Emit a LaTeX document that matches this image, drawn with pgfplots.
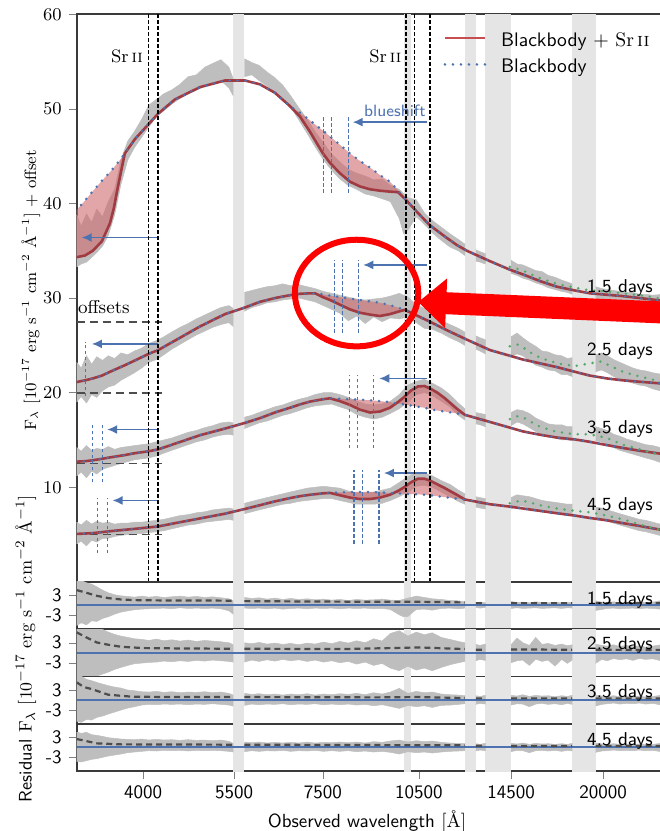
\documentclass[border=0pt]{standalone}
\usepackage{fontspec}
\usepackage{graphicx}
\usepackage{pgfplots}
\usepackage{pgfplotstable}
\pgfplotsset{compat=1.18}
\usetikzlibrary{arrows.meta}

\definecolor{bbblue}{HTML}{4C72B0}
\definecolor{srred}{HTML}{C44E52}
\definecolor{srline}{HTML}{A23A41}
\definecolor{srfill}{HTML}{D06A6E}
\definecolor{sgreen}{HTML}{55A868}
\definecolor{specgray}{HTML}{BEBEBE}
\definecolor{bandgray}{HTML}{E5E5E5}
\definecolor{axcol}{HTML}{3A3A3A}
\definecolor{dgray}{HTML}{4D4D4D}

% model curves: blackbody (bb) and blackbody + Sr II (sr)
\pgfplotstableread{
x bb sr
3160 39.2 34.3
3263 40.3 34.5
3354 41.3 35.0
3462 42.4 36.0
3561 43.3 37.9
3610 43.8 39.5
3648 44.2 41.2
3700 44.7 43.3
3752 45.3 45.3
3886 46.8 46.8
4078 48.4 48.4
4216 49.5 49.5
4470 51.0 51.0
4880 52.3 52.3
5325 53.0 53.0
5711 53.0 53.0
6018 52.6 52.6
6343 51.7 51.7
6683 50.3 50.3
6922 49.6 49.2
7168 48.8 47.6
7501 47.7 45.3
7689 47.1 44.3
7962 46.2 43.2
8247 45.3 42.3
8540 44.5 41.8
8845 43.8 41.5
9159 43.0 41.35
9485 42.3 41.25
9754 41.4 41.2
9995 40.5 40.5
10461 39.0 39.0
10909 37.7 37.7
11498 36.5 36.5
11989 35.6 35.6
12417 35.0 35.0
13459 33.9 33.9
14431 33.0 33.0
15107 32.5 32.5
16032 31.8 31.8
17014 31.2 31.2
18125 30.8 30.8
19095 30.5 30.5
20271 30.35 30.35
21436 30.2 30.2
22751 30.0 30.0
24700 29.7 29.7
}\tA

\pgfplotstableread{
x bb sr
3160 21.1 21.1
3263 21.3 21.3
3354 21.5 21.5
3462 21.8 21.8
3561 22.2 22.2
3752 22.9 22.9
3886 23.4 23.4
4078 24.1 24.1
4216 24.5 24.5
4470 25.5 25.5
4880 27.0 27.0
5325 28.3 28.3
5711 29.0 29.0
6018 29.6 29.6
6343 30.0 30.0
6683 30.3 30.3
6922 30.45 30.45
7168 30.5 30.5
7300 30.5 30.5
7501 30.4 30.1
7689 30.25 29.8
7962 30.1 29.3
8247 29.95 28.8
8540 29.8 28.45
8845 29.65 28.25
9159 29.5 28.1
9485 29.25 28.3
9754 29.0 28.55
9995 28.75 28.75
10461 28.1 28.1
10909 27.5 27.5
11498 26.7 26.7
11989 26.1 26.1
12417 25.6 25.6
13459 24.5 24.5
14431 23.9 23.9
15107 23.5 23.5
16032 23.1 23.1
17014 22.7 22.7
18125 22.2 22.2
19095 21.8 21.8
20271 21.5 21.5
21436 21.3 21.3
22751 21.15 21.15
24700 20.95 20.95
}\tB

\pgfplotstableread{
x bb sr
3160 12.7 12.7
3263 12.75 12.75
3354 12.85 12.85
3462 13.0 13.0
3561 13.15 13.15
3752 13.4 13.4
3886 13.6 13.6
4078 13.8 13.8
4216 14.0 14.0
4470 14.6 14.6
4880 15.5 15.5
5325 16.2 16.2
5711 16.8 16.8
6018 17.3 17.3
6343 17.9 17.9
6683 18.4 18.4
6922 18.75 18.75
7168 19.05 19.05
7501 19.3 19.3
7689 19.4 19.4
7962 19.35 19.1
8247 19.3 18.7
8540 19.25 18.2
8845 19.2 17.9
9159 19.1 18.0
9485 19.0 18.4
9754 18.85 19.0
9995 18.75 19.6
10200 18.65 20.2
10461 18.5 20.65
10700 18.4 20.7
10909 18.25 20.45
11200 18.1 20.0
11498 18.0 19.4
11989 17.8 18.3
12330 17.65 17.65
13459 16.9 16.9
14431 16.3 16.3
15107 15.9 15.9
16032 15.55 15.55
17014 15.25 15.25
18125 15.05 15.05
19095 14.8 14.8
20271 14.45 14.45
21436 14.15 14.15
22751 13.85 13.85
24700 13.5 13.5
}\tC

\pgfplotstableread{
x bb sr
3160 5.06 5.06
3263 5.1 5.1
3354 5.15 5.15
3462 5.25 5.25
3561 5.35 5.35
3752 5.5 5.5
3886 5.6 5.6
4078 5.75 5.75
4216 5.85 5.85
4470 6.2 6.2
4880 6.7 6.7
5325 7.2 7.2
5711 7.7 7.7
6018 8.1 8.1
6343 8.5 8.5
6683 8.85 8.85
6922 9.05 9.05
7168 9.2 9.2
7501 9.35 9.35
7689 9.4 9.4
7962 9.45 9.15
8247 9.5 8.9
8540 9.5 8.75
8845 9.5 8.75
9159 9.45 8.9
9485 9.4 9.2
9754 9.35 9.6
9995 9.3 10.05
10200 9.28 10.5
10461 9.25 10.9
10700 9.2 10.9
10909 9.15 10.7
11200 9.05 10.3
11498 8.95 9.9
11989 8.8 9.2
12330 8.7 8.7
13459 8.2 8.2
14431 7.95 7.95
15107 7.75 7.75
16032 7.5 7.5
17014 7.25 7.25
18125 7.0 7.0
19095 6.75 6.75
20271 6.5 6.5
21436 6.2 6.2
22751 5.9 5.9
24700 5.45 5.45
}\tD

\tikzset{
  spec/.style={fill=specgray, draw=specgray, line width=0.25pt},
  band/.style={fill=bandgray, draw=none},
  srfl/.style={fill=srfill, fill opacity=0.6, draw=none},
  bbline/.style={bbblue, line width=1.4pt, line cap=round, dash pattern=on 0pt off 4pt},
  srl/.style={srline, line width=1.3pt},
  gline/.style={sgreen, line width=1.4pt, line cap=round, dash pattern=on 0pt off 4pt},
  srdash/.style={black, line width=0.7pt, dash pattern=on 1.8pt off 1.2pt},
  bdash/.style={bbblue, line width=0.6pt, dash pattern=on 1.8pt off 1.2pt},
  barrow/.style={bbblue, line width=0.8pt, -{Latex[length=5pt,width=4.5pt]}},
  rdash/.style={dgray, line width=1.1pt, dash pattern=on 3pt off 2pt},
  offl/.style={dgray, line width=0.9pt, dash pattern=on 4pt off 2.5pt},
  zline/.style={bbblue, line width=1pt},
}

\newcommand{\bands}[2]{%
  \addplot[band, forget plot] coordinates {(5480,#1)(5700,#1)(5700,#2)(5480,#2)};
  \addplot[band, forget plot] coordinates {(9950,#1)(10200,#1)(10200,#2)(9950,#2)};
  \addplot[band, forget plot] coordinates {(12330,#1)(12810,#1)(12810,#2)(12330,#2)};
  \addplot[band, forget plot] coordinates {(13245,#1)(14490,#1)(14490,#2)(13245,#2)};
  \addplot[band, forget plot] coordinates {(17950,#1)(19480,#1)(19480,#2)(17950,#2)};
}
\newcommand{\dlab}{\sffamily\fontsize{9.3}{10}\selectfont}

\begin{document}
\begin{tikzpicture}
% ---------------- main panel ----------------
\begin{axis}[scale only axis, width=293.35pt, height=283.75pt,
  xmode=log, xmin=3170, xmax=24700, ymin=0, ymax=60,
  at={(0,0)}, anchor=south west,
  axis line style={draw=axcol, line width=0.8pt},
  major tick length=4pt, tick align=outside, tick pos=left,
  unbounded coords=jump,
  ytick={10,20,30,40,50,60}, xtick=\empty,
  yticklabel style={font=\fontsize{8.8}{10}\selectfont}]
\bands{-1}{61}
% observed spectra (noise envelopes)
\addplot[spec, forget plot] coordinates {
(3170,38.8)(3220,37.6)(3280,38.9)(3340,38.0)(3400,39.4)(3470,38.6)(3540,40.2)(3620,41.5)(3700,44.6)(3790,46.6)(3880,47.6)(3980,48.9)(4080,50.4)(4190,51.0)(4300,51.6)(4420,52.0)(4550,52.6)(4680,53.4)(4820,53.6)(4960,54.4)(5100,54.8)(5250,55.2)(5400,54.4)(5480,53.2)
(5480,51.4)(5400,52.2)(5250,53.0)(5100,52.7)(4960,52.4)(4820,52.0)(4680,51.6)(4550,51.1)(4420,50.5)(4300,49.8)(4190,49.2)(4080,48.1)(3980,47.0)(3880,45.9)(3790,44.6)(3700,42.0)(3620,38.8)(3540,36.6)(3470,35.5)(3400,34.8)(3340,34.3)(3280,33.8)(3220,33.6)(3170,33.3)
(5600,nan)
(5700,55.3)(5850,54.9)(6000,54.6)(6170,53.9)(6340,53.3)(6520,52.5)(6700,51.4)(6900,50.1)(7100,48.9)(7300,47.6)(7520,46.4)(7740,45.2)(7960,44.4)(8200,43.6)(8440,43.2)(8700,42.9)(8960,42.5)(9230,42.6)(9500,41.9)(9800,41.5)(10100,40.6)(10400,40.4)(10700,39.0)(11000,38.2)(11350,37.5)(11700,36.8)(12050,36.2)(12330,35.7)
(12330,34.5)(12050,35.0)(11700,35.4)(11350,36.1)(11000,36.9)(10700,37.8)(10400,38.6)(10100,37.2)(9950,36.8)(9800,38.4)(9500,40.2)(9230,40.5)(8960,40.8)(8700,41.0)(8440,41.5)(8200,41.9)(7960,42.6)(7740,43.5)(7520,44.6)(7300,46.0)(7100,47.4)(6900,48.8)(6700,50.2)(6520,51.0)(6340,51.8)(6170,52.4)(6000,53.0)(5850,53.6)(5700,53.4)
(12500,nan)
(12810,35.1)(13000,34.9)(13245,34.7)(13245,33.6)(13000,33.8)(12810,33.9)
(14000,nan)
(14490,34.0)(14800,33.6)(15100,33.5)(15450,33.2)(15800,32.9)(16150,32.8)(16500,32.4)(16900,32.2)(17300,31.9)(17650,31.7)(17950,31.5)
(17950,30.4)(17650,30.6)(17300,30.7)(16900,30.9)(16500,31.1)(16150,31.4)(15800,31.6)(15450,31.9)(15100,32.1)(14800,32.4)(14490,32.6)
(19000,nan)
(19480,31.2)(19900,31.0)(20300,30.9)(20750,30.8)(21200,30.7)(21700,30.6)(22200,30.6)(22700,30.4)(23200,30.4)(23800,30.3)(24700,30.4)
(24700,29.1)(23800,29.3)(23200,29.4)(22700,29.5)(22200,29.5)(21700,29.6)(21200,29.8)(20750,29.7)(20300,29.9)(19900,29.8)(19480,30.0)
};
\addplot[spec, forget plot] coordinates {
(3170,23.2)(3220,22.6)(3280,23.9)(3340,23.0)(3400,23.8)(3470,23.4)(3540,23.9)(3620,23.6)(3700,24.2)(3790,24.0)(3880,24.4)(3980,24.7)(4080,25.2)(4190,25.5)(4300,25.9)(4420,26.4)(4550,26.9)(4680,27.3)(4820,27.8)(4960,28.2)(5100,28.6)(5250,29.0)(5400,29.2)(5480,28.9)
(5480,27.0)(5400,27.4)(5250,27.2)(5100,26.9)(4960,26.5)(4820,26.1)(4680,25.6)(4550,25.1)(4420,24.6)(4300,24.0)(4190,23.5)(4080,23.2)(3980,22.6)(3880,22.1)(3790,21.7)(3700,21.3)(3620,20.8)(3540,20.6)(3470,20.2)(3400,19.5)(3340,19.8)(3280,18.9)(3220,19.6)(3170,19.0)
(5600,nan)
(5700,30.6)(5850,30.8)(6000,31.0)(6170,31.2)(6340,31.3)(6520,31.5)(6700,31.3)(6900,31.4)(7100,31.2)(7300,31.0)(7520,30.7)(7740,30.5)(7960,30.3)(8200,30.1)(8440,29.9)(8700,29.8)(8960,29.9)(9230,30.0)(9500,30.2)(9800,30.5)(10100,30.1)(10400,29.3)(10700,28.9)(11000,28.3)(11350,27.6)(11700,27.2)(12050,26.8)(12330,26.4)
(12330,25.0)(12050,25.4)(11700,25.8)(11350,26.3)(11000,26.7)(10700,26.8)(10400,27.4)(10100,28.0)(9800,27.8)(9500,27.9)(9230,27.5)(8960,28.0)(8700,27.3)(8440,28.1)(8200,27.6)(7960,28.4)(7740,28.8)(7520,29.2)(7300,29.6)(7100,29.8)(6900,30.0)(6700,29.9)(6520,29.8)(6340,29.6)(6170,29.5)(6000,29.2)(5850,29.0)(5700,28.6)
(12500,nan)
(12810,26.0)(13000,25.8)(13245,25.6)(13245,24.1)(13000,24.4)(12810,24.6)
(14000,nan)
(14490,25.9)(14800,26.3)(15100,25.8)(15450,25.3)(15800,24.9)(16150,24.4)(16500,24.3)(16900,24.0)(17300,23.9)(17650,23.6)(17950,23.7)
(17950,21.7)(17650,21.9)(17300,21.9)(16900,22.3)(16500,22.4)(16150,22.7)(15800,22.9)(15450,23.4)(15100,23.9)(14800,24.1)(14490,23.8)
(19000,nan)
(19480,24.0)(19900,24.2)(20300,23.9)(20750,23.5)(21200,23.2)(21700,22.9)(22200,22.6)(22700,22.4)(23200,22.3)(23800,22.1)(24700,21.9)
(24700,20.1)(23800,20.4)(23200,20.7)(22700,20.8)(22200,21.0)(21700,21.2)(21200,21.4)(20750,21.7)(20300,22.1)(19900,22.4)(19480,22.2)
};
\addplot[spec, forget plot] coordinates {
(3170,14.2)(3220,13.8)(3280,14.4)(3340,13.9)(3400,14.1)(3470,14.0)(3540,14.3)(3620,14.0)(3700,14.2)(3790,14.3)(3880,14.4)(3980,14.5)(4080,14.6)(4190,14.8)(4300,15.0)(4420,15.2)(4550,15.5)(4680,15.8)(4820,16.0)(4960,16.3)(5100,16.5)(5250,16.8)(5400,16.9)(5480,16.8)
(5480,15.5)(5400,15.6)(5250,15.5)(5100,15.3)(4960,15.0)(4820,14.8)(4680,14.5)(4550,14.2)(4420,13.9)(4300,13.6)(4190,13.3)(4080,13.1)(3980,13.0)(3880,12.9)(3790,12.7)(3700,12.5)(3620,12.3)(3540,12.1)(3470,11.9)(3400,11.4)(3340,11.7)(3280,11.0)(3220,11.6)(3170,11.2)
(5600,nan)
(5700,17.4)(5850,17.6)(6000,17.9)(6170,18.2)(6340,18.5)(6520,18.7)(6700,19.0)(6900,19.3)(7100,19.5)(7300,19.8)(7520,20.0)(7740,20.0)(7960,19.8)(8200,19.5)(8440,19.1)(8700,18.8)(8960,18.7)(9230,18.8)(9500,19.1)(9800,19.8)(10100,20.8)(10400,21.2)(10700,21.4)(11000,21.0)(11350,20.5)(11700,19.8)(12050,18.9)(12330,18.3)
(12330,17.1)(12050,17.6)(11700,18.5)(11350,19.1)(11000,19.7)(10700,20.0)(10400,19.8)(10100,19.0)(9800,18.3)(9500,17.8)(9230,17.4)(8960,17.2)(8700,17.4)(8440,17.7)(8200,18.2)(7960,18.5)(7740,18.8)(7520,18.7)(7300,18.6)(7100,18.4)(6900,18.1)(6700,17.8)(6520,17.6)(6340,17.3)(6170,17.0)(6000,16.8)(5850,16.5)(5700,16.2)
(12500,nan)
(12810,17.9)(13000,17.8)(13245,17.7)(13245,16.4)(13000,16.6)(12810,16.7)
(14000,nan)
(14490,17.9)(14800,18.2)(15100,18.1)(15450,17.8)(15800,17.3)(16150,17.0)(16500,16.7)(16900,16.6)(17300,16.6)(17650,16.4)(17950,16.4)
(17950,14.9)(17650,15.0)(17300,15.0)(16900,15.2)(16500,15.3)(16150,15.5)(15800,15.9)(15450,16.3)(15100,16.7)(14800,16.9)(14490,16.5)
(19000,nan)
(19480,16.4)(19900,16.2)(20300,16.0)(20750,15.6)(21200,15.4)(21700,15.1)(22200,14.9)(22700,14.7)(23200,14.5)(23800,14.4)(24700,14.1)
(24700,12.5)(23800,12.9)(23200,13.1)(22700,13.3)(22200,13.5)(21700,13.7)(21200,13.9)(20750,14.2)(20300,14.5)(19900,14.8)(19480,14.9)
};
\addplot[spec, forget plot] coordinates {
(3170,6.3)(3220,6.0)(3280,6.5)(3340,6.1)(3400,6.4)(3470,6.2)(3540,6.3)(3620,6.1)(3700,6.2)(3790,6.2)(3880,6.3)(3980,6.3)(4080,6.4)(4190,6.5)(4300,6.6)(4420,6.8)(4550,7.0)(4680,7.1)(4820,7.3)(4960,7.4)(5100,7.6)(5250,7.7)(5400,7.8)(5480,7.7)
(5480,6.5)(5400,6.6)(5250,6.5)(5100,6.4)(4960,6.3)(4820,6.1)(4680,6.0)(4550,5.8)(4420,5.6)(4300,5.4)(4190,5.3)(4080,5.2)(3980,5.1)(3880,5.1)(3790,5.0)(3700,4.9)(3620,4.8)(3540,4.6)(3470,4.6)(3400,4.2)(3340,4.4)(3280,3.8)(3220,4.3)(3170,4.0)
(5600,nan)
(5700,8.3)(5850,8.5)(6000,8.7)(6170,8.9)(6340,9.1)(6520,9.3)(6700,9.5)(6900,9.7)(7100,9.9)(7300,10.0)(7520,10.1)(7740,10.0)(7960,9.9)(8200,9.6)(8440,9.4)(8700,9.4)(8960,9.5)(9230,9.7)(9500,9.9)(9800,10.5)(10100,11.1)(10400,11.6)(10700,11.5)(11000,11.2)(11350,10.7)(11700,10.3)(12050,9.7)(12330,9.3)
(12330,8.2)(12050,8.5)(11700,9.0)(11350,9.5)(11000,10.0)(10700,10.2)(10400,10.1)(10100,9.5)(9800,9.0)(9500,8.6)(9230,8.3)(8960,8.2)(8700,8.2)(8440,8.2)(8200,8.4)(7960,8.6)(7740,8.8)(7520,8.8)(7300,8.7)(7100,8.6)(6900,8.5)(6700,8.3)(6520,8.2)(6340,8.0)(6170,7.8)(6000,7.6)(5850,7.4)(5700,7.2)
(12500,nan)
(12810,9.0)(13000,8.9)(13245,8.8)(13245,7.7)(13000,7.8)(12810,7.9)
(14000,nan)
(14490,8.9)(14800,9.2)(15100,9.1)(15450,9.0)(15800,8.8)(16150,8.6)(16500,8.5)(16900,8.4)(17300,8.3)(17650,8.2)(17950,8.2)
(17950,7.0)(17650,7.0)(17300,7.1)(16900,7.2)(16500,7.3)(16150,7.4)(15800,7.6)(15450,7.8)(15100,8.0)(14800,8.0)(14490,7.7)
(19000,nan)
(19480,7.9)(19900,7.8)(20300,7.6)(20750,7.4)(21200,7.2)(21700,7.0)(22200,6.8)(22700,6.6)(23200,6.5)(23800,6.3)(24700,6.0)
(24700,4.8)(23800,5.1)(23200,5.3)(22700,5.4)(22200,5.6)(21700,5.8)(21200,6.0)(20750,6.2)(20300,6.4)(19900,6.6)(19480,6.7)
};
% offsets
\addplot[offl, forget plot] coordinates {(3170,27.5)(4272,27.5)};
\addplot[offl, forget plot] coordinates {(3170,20)(4272,20)};
\addplot[offl, forget plot] coordinates {(3170,12.5)(4272,12.5)};
\addplot[offl, forget plot] coordinates {(3170,5)(4272,5)};
% Sr II contribution shading (between the two models)
\addplot[srfl, forget plot] coordinates {(3160,34.3)(3263,34.5)(3354,35.0)(3462,36.0)(3561,37.9)(3610,39.5)(3648,41.2)(3700,43.3)(3752,45.3)(3700,44.7)(3648,44.2)(3610,43.8)(3561,43.3)(3462,42.4)(3354,41.3)(3263,40.3)(3160,39.2)};
\addplot[srfl, forget plot] coordinates {(6683,50.3)(6922,49.2)(7168,47.6)(7501,45.3)(7689,44.3)(7962,43.2)(8247,42.3)(8540,41.8)(8845,41.5)(9159,41.35)(9485,41.25)(9754,41.2)(9995,40.5)(9754,41.4)(9485,42.3)(9159,43.0)(8845,43.8)(8540,44.5)(8247,45.3)(7962,46.2)(7689,47.1)(7501,47.7)(7168,48.8)(6922,49.6)};
\addplot[srfl, forget plot] coordinates {(7300,30.5)(7501,30.1)(7689,29.8)(7962,29.3)(8247,28.8)(8540,28.45)(8845,28.25)(9159,28.1)(9485,28.3)(9754,28.55)(9995,28.75)(9754,29.0)(9485,29.25)(9159,29.5)(8845,29.65)(8540,29.8)(8247,29.95)(7962,30.1)(7689,30.25)(7501,30.4)};
\addplot[srfl, forget plot] coordinates {(7689,19.4)(7962,19.1)(8247,18.7)(8540,18.2)(8845,17.9)(9159,18.0)(9485,18.4)(9754,19.0)(9995,19.6)(10200,20.2)(10461,20.65)(10700,20.7)(10909,20.45)(11200,20.0)(11498,19.4)(11989,18.3)(12330,17.65)(11989,17.8)(11498,18.0)(11200,18.1)(10909,18.25)(10700,18.4)(10461,18.5)(10200,18.65)(9995,18.75)(9754,18.85)(9485,19.0)(9159,19.1)(8845,19.2)(8540,19.25)(8247,19.3)(7962,19.35)};
\addplot[srfl, forget plot] coordinates {(7689,9.4)(7962,9.15)(8247,8.9)(8540,8.75)(8845,8.75)(9159,8.9)(9485,9.2)(9754,9.6)(9995,10.05)(10200,10.5)(10461,10.9)(10700,10.9)(10909,10.7)(11200,10.3)(11498,9.9)(11989,9.2)(12330,8.7)(11989,8.8)(11498,8.95)(11200,9.05)(10909,9.15)(10700,9.2)(10461,9.25)(10200,9.28)(9995,9.3)(9754,9.35)(9485,9.4)(9159,9.45)(8845,9.5)(8540,9.5)(8247,9.5)(7962,9.45)};
% model lines
\addplot[srl, forget plot] table[x=x,y=sr]{\tA};
\addplot[srl, forget plot] table[x=x,y=sr]{\tB};
\addplot[srl, forget plot] table[x=x,y=sr]{\tC};
\addplot[srl, forget plot] table[x=x,y=sr]{\tD};
\addplot[bbline, forget plot] table[x=x,y=bb]{\tA};
\addplot[bbline, forget plot] table[x=x,y=bb]{\tB};
\addplot[bbline, forget plot] table[x=x,y=bb]{\tC};
\addplot[bbline, forget plot] table[x=x,y=bb]{\tD};
% green dotted
\addplot[gline, forget plot] coordinates {(14431,33.3)(15107,32.9)(16032,32.1)(17014,31.5)(18125,31.1)(19095,30.8)(20271,30.7)(21436,30.5)(22751,30.3)(24700,29.9)};
\addplot[gline, forget plot] coordinates {(14431,24.9)(14800,25.1)(15107,24.8)(15450,24.3)(16032,23.7)(17014,23.1)(18125,22.8)(19095,23.1)(19900,23.3)(20271,23.0)(21436,22.2)(22751,21.7)(24700,21.1)};
\addplot[gline, forget plot] coordinates {(14431,17.2)(14800,17.5)(15107,17.4)(15450,17.0)(16032,16.4)(17014,15.85)(18125,15.6)(19095,15.6)(20271,15.2)(21436,14.5)(22751,14.0)(24700,13.3)};
\addplot[gline, forget plot] coordinates {(14431,8.3)(15000,8.6)(15450,8.4)(16032,8.1)(17014,7.75)(18125,7.5)(19095,7.35)(20271,7.0)(21436,6.6)(22751,6.05)(24700,5.4)};
% blueshift markers
\addplot[bdash, forget plot] coordinates {(7508,41.1)(7508,49.1)};
\addplot[bdash, forget plot] coordinates {(7734,41.1)(7734,49.1)};
\addplot[bdash, forget plot] coordinates {(8199,41.1)(8199,49.1)};
\addplot[bdash, forget plot] coordinates {(7823,26.3)(7823,34.0)};
\addplot[bdash, forget plot] coordinates {(8026,26.3)(8026,34.0)};
\addplot[bdash, forget plot] coordinates {(8488,26.3)(8488,34.0)};
\addplot[bdash, forget plot] coordinates {(8228,14.1)(8228,21.9)};
\addplot[bdash, forget plot] coordinates {(8471,14.1)(8471,21.9)};
\addplot[bdash, forget plot] coordinates {(8946,14.1)(8946,21.9)};
\addplot[bdash, forget plot] coordinates {(8363,4.0)(8363,11.8)};
\addplot[bdash, forget plot] coordinates {(8609,4.0)(8609,11.8)};
\addplot[bdash, forget plot] coordinates {(9128,4.0)(9128,11.8)};
\addplot[bdash, forget plot] coordinates {(3273,19.6)(3273,25.4)};
\addplot[bdash, forget plot] coordinates {(3351,10.5)(3351,16.6)};
\addplot[bdash, forget plot] coordinates {(3470,10.5)(3470,16.6)};
\addplot[bdash, forget plot] coordinates {(3410,3.0)(3410,8.9)};
\addplot[bdash, forget plot] coordinates {(3527,3.0)(3527,8.9)};
\addplot[barrow, forget plot] coordinates {(10800,48.6)(8325,48.6)};
\addplot[barrow, forget plot] coordinates {(10800,33.5)(8640,33.5)};
\addplot[barrow, forget plot] coordinates {(10800,21.5)(9138,21.5)};
\addplot[barrow, forget plot] coordinates {(10800,11.5)(9289,11.5)};
\addplot[barrow, forget plot] coordinates {(4216,36.4)(3226,36.4)};
\addplot[barrow, forget plot] coordinates {(4216,25.15)(3343,25.15)};
\addplot[barrow, forget plot] coordinates {(4216,16.1)(3527,16.1)};
\addplot[barrow, forget plot] coordinates {(4216,8.6)(3594,8.6)};
% Sr II line positions
\addplot[srdash, forget plot] coordinates {(4077.7,0)(4077.7,60)};
\addplot[srdash, forget plot] coordinates {(4215.5,0)(4215.5,60)};
\addplot[srdash, forget plot] coordinates {(10036.7,0)(10036.7,60)};
\addplot[srdash, forget plot] coordinates {(10327.3,0)(10327.3,60)};
\addplot[srdash, forget plot] coordinates {(10914.9,0)(10914.9,60)};
% labels
\node[anchor=base east, inner sep=0pt, font=\fontsize{9}{10}\selectfont] at (axis cs:4000,54.93) {Sr\,\textsc{ii}};
\node[anchor=base east, inner sep=0pt, font=\fontsize{9}{10}\selectfont] at (axis cs:9881,54.93) {Sr\,\textsc{ii}};
\node[anchor=base, inner sep=0pt, text=bbblue, font=\sffamily\fontsize{8.2}{10}\selectfont] at (axis cs:9652,49.2) {blueshift};
\node[anchor=base west, inner sep=0pt, font=\fontsize{9.3}{10}\selectfont] at (axis cs:3180,28.34) {offsets};
\node[anchor=base, inner sep=0pt, font=\dlab] at (axis cs:21213,30.6) {1.5 days};
\node[anchor=base, inner sep=0pt, font=\dlab] at (axis cs:21213,23.9) {2.5 days};
\node[anchor=base, inner sep=0pt, font=\dlab] at (axis cs:21213,15.71) {3.5 days};
\node[anchor=base, inner sep=0pt, font=\dlab] at (axis cs:21213,7.49) {4.5 days};
% legend
\draw[srred, line width=1.3pt] (axis cs:11498,57.5) -- (axis cs:13227,57.5);
\draw[bbblue, line width=1.4pt, line cap=round, dash pattern=on 0pt off 4pt] (axis cs:11498,54.7) -- (axis cs:13227,54.7);
\node[anchor=base west, inner sep=0pt, font=\fontsize{9.8}{11}\selectfont] at (axis cs:13975,56.62) {\textsf{Blackbody} $+$ Sr\,\textsc{ii}};
\node[anchor=base west, inner sep=0pt, font=\sffamily\fontsize{9.8}{11}\selectfont] at (axis cs:13975,53.87) {Blackbody};
% annotation
\draw[red, line width=3pt] (axis cs:8441,30.53) ellipse [x radius=30.85pt, y radius=26.65pt];
\draw[red, line width=11pt, -{Triangle[length=14pt,width=24pt]}] (axis cs:25300,28.44) -- (axis cs:10471,29.58);
\end{axis}

% ---------------- residual panels ----------------
\begin{axis}[scale only axis, width=293.35pt, height=23.65pt,
  xmode=log, xmin=3170, xmax=24700, ymin=-7.1, ymax=7.1,
  at={(0,0)}, anchor=north west,
  axis line style={draw=axcol, line width=0.8pt},
  major tick length=4pt, tick align=outside, tick pos=left,
  unbounded coords=jump, xtick=\empty,
  ytick={-3,3}, yticklabels={\textsf{-3},\textsf{3}},
  yticklabel style={font=\fontsize{9.5}{10}\selectfont}]
\bands{-10}{10}
\addplot[spec, forget plot] coordinates {
(3170,7.8)(3220,7.5)(3280,6.8)(3340,6.4)(3400,5.6)(3470,4.6)(3540,3.8)(3620,3.2)(3700,2.9)(3790,2.7)(3880,2.5)(3980,2.8)(4080,2.5)(4190,2.7)(4300,2.4)(4420,2.6)(4550,2.8)(4680,2.5)(4820,2.7)(4960,2.4)(5100,2.6)(5250,2.3)(5400,2.0)(5480,1.4)
(5480,-2.6)(5400,-1.6)(5250,-1.0)(5100,-0.8)(4960,-0.9)(4820,-0.8)(4680,-0.9)(4550,-0.7)(4420,-1.0)(4300,-0.8)(4190,-0.9)(4080,-1.0)(3980,-1.1)(3880,-1.3)(3790,-1.6)(3700,-2.0)(3620,-2.6)(3540,-3.4)(3470,-3.9)(3400,-4.8)(3340,-4.6)(3280,-5.8)(3220,-5.2)(3170,-6.0)
(5600,nan)
(5700,2.4)(5850,2.1)(6000,2.3)(6170,1.9)(6340,2.2)(6520,1.8)(6700,2.1)(6900,1.8)(7100,2.0)(7300,1.7)(7520,1.9)(7740,1.6)(7960,1.8)(8200,1.5)(8440,1.8)(8700,1.6)(8960,1.7)(9230,1.9)(9500,1.6)(9800,1.5)(10100,2.2)(10400,2.8)(10700,2.4)(11000,2.0)(11350,1.8)(11700,1.5)(12050,1.4)(12330,1.1)
(12330,-0.8)(12050,-1.0)(11700,-0.8)(11350,-0.9)(11000,-1.4)(10700,-1.1)(10400,-1.2)(10100,-3.3)(9950,-3.4)(9800,-2.8)(9500,-1.2)(9230,-0.9)(8960,-1.0)(8700,-0.8)(8440,-0.9)(8200,-0.8)(7960,-1.0)(7740,-0.8)(7520,-0.9)(7300,-0.8)(7100,-1.0)(6900,-0.8)(6700,-0.9)(6520,-1.1)(6340,-0.8)(6170,-1.0)(6000,-0.8)(5850,-0.9)(5700,-0.8)
(12500,nan)
(12810,0.9)(13000,1.0)(13245,0.8)(13245,-0.6)(13000,-0.8)(12810,-0.6)
(14000,nan)
(14490,1.2)(14800,0.9)(15100,1.0)(15450,0.8)(15800,1.1)(16150,0.9)(16500,0.8)(16900,1.0)(17300,0.8)(17650,0.9)(17950,1.0)
(17950,-0.8)(17650,-0.7)(17300,-0.9)(16900,-0.7)(16500,-0.8)(16150,-0.9)(15800,-0.7)(15450,-0.8)(15100,-0.9)(14800,-0.7)(14490,-0.9)
(19000,nan)
(19480,1.4)(19900,1.0)(20300,0.9)(20750,1.1)(21200,0.8)(21700,1.0)(22200,0.9)(22700,1.1)(23200,0.9)(23800,1.0)(24700,1.6)
(24700,-1.2)(23800,-0.9)(23200,-0.8)(22700,-1.0)(22200,-0.8)(21700,-0.9)(21200,-1.0)(20750,-0.8)(20300,-0.9)(19900,-1.2)(19480,-1.5)
};
\addplot[zline, forget plot] coordinates {(3170,0)(24700,0)};
\addplot[rdash, forget plot] coordinates {(3170,4.6)(3280,3.8)(3400,2.9)(3540,2.2)(3700,1.8)(3880,1.6)(4300,1.5)(5000,1.5)(5480,1.4) (5600,nan) (5700,1.3)(7000,1.2)(9000,1.1)(10500,1.1)(12330,0.9) (12500,nan) (12810,0.7)(13245,0.7) (14000,nan) (14490,0.7)(17950,0.7) (19000,nan) (19480,0.7)(24700,0.7)};
\node[anchor=base, inner sep=0pt, font=\dlab] at (axis cs:21213,0.35) {1.5 days};
\end{axis}

\begin{axis}[scale only axis, width=293.35pt, height=23.65pt,
  xmode=log, xmin=3170, xmax=24700, ymin=-7.1, ymax=7.1,
  at={(0,-23.65pt)}, anchor=north west,
  axis line style={draw=axcol, line width=0.8pt},
  major tick length=4pt, tick align=outside, tick pos=left,
  unbounded coords=jump, xtick=\empty,
  ytick={-3,3}, yticklabels={\textsf{-3},\textsf{3}},
  yticklabel style={font=\fontsize{9.5}{10}\selectfont}]
\bands{-10}{10}
\addplot[spec, forget plot] coordinates {
(3170,8)(3220,8)(3280,8)(3340,8)(3400,7.5)(3470,7.0)(3540,6.2)(3620,5.5)(3700,5.0)(3790,4.6)(3880,4.2)(3980,4.0)(4080,3.7)(4190,4.1)(4300,3.6)(4420,3.9)(4550,3.5)(4680,3.8)(4820,3.4)(4960,3.7)(5100,3.5)(5250,3.3)(5400,3.0)(5480,2.4)
(5480,-2.8)(5400,-2.6)(5250,-2.4)(5100,-2.2)(4960,-2.5)(4820,-2.3)(4680,-2.6)(4550,-2.4)(4420,-2.7)(4300,-2.5)(4190,-2.8)(4080,-2.9)(3980,-3.1)(3880,-3.3)(3790,-3.8)(3700,-4.4)(3620,-5.0)(3540,-5.8)(3470,-6.4)(3400,-7.0)(3340,-8)(3280,-8)(3220,-8)(3170,-8)
(5600,nan)
(5700,3.0)(5850,2.7)(6000,3.1)(6170,2.6)(6340,2.9)(6520,2.5)(6700,2.8)(6900,2.4)(7100,2.9)(7300,2.6)(7520,3.2)(7740,2.7)(7960,3.4)(8200,2.9)(8440,3.6)(8700,3.0)(8960,4.2)(9230,3.5)(9500,5.8)(9800,6.6)(10100,5.0)(10400,6.2)(10700,5.4)(11000,6.0)(11350,4.6)(11700,4.0)(12050,3.4)(12330,3.0)
(12330,-2.6)(12050,-3.0)(11700,-3.6)(11350,-4.4)(11000,-5.4)(10700,-4.6)(10400,-5.2)(10100,-4.0)(9800,-5.4)(9500,-4.6)(9230,-3.2)(8960,-3.8)(8700,-2.8)(8440,-3.4)(8200,-2.6)(7960,-3.0)(7740,-2.4)(7520,-2.8)(7300,-2.2)(7100,-2.6)(6900,-2.1)(6700,-2.4)(6520,-2.0)(6340,-2.5)(6170,-2.1)(6000,-2.6)(5850,-2.2)(5700,-2.8)
(12500,nan)
(12810,2.5)(13000,2.2)(13245,2.6)(13245,-2.3)(13000,-2.0)(12810,-2.4)
(14000,nan)
(14490,2.4)(14800,4.4)(15100,3.0)(15450,2.2)(15800,4.6)(16150,2.5)(16500,2.8)(16900,2.2)(17300,2.6)(17650,2.1)(17950,2.4)
(17950,-2.2)(17650,-3.2)(17300,-2.0)(16900,-4.0)(16500,-2.2)(16150,-2.6)(15800,-1.9)(15450,-3.8)(15100,-2.2)(14800,-2.4)(14490,-3.0)
(19000,nan)
(19480,2.6)(19900,2.2)(20300,2.0)(20750,2.4)(21200,1.9)(21700,2.2)(22200,1.8)(22700,2.1)(23200,1.7)(23800,2.0)(24700,2.5)
(24700,-2.6)(23800,-1.8)(23200,-2.0)(22700,-1.7)(22200,-2.3)(21700,-1.8)(21200,-2.1)(20750,-1.7)(20300,-2.4)(19900,-2.0)(19480,-3.2)
};
\addplot[zline, forget plot] coordinates {(3170,0)(24700,0)};
\addplot[rdash, forget plot] coordinates {(3170,6.1)(3280,4.6)(3400,3.1)(3540,2.4)(3700,1.8)(4000,1.4)(4500,1.3)(5480,1.2) (5600,nan) (5700,1.2)(8000,1.1)(9500,1.4)(10500,1.6)(12330,1.1) (12500,nan) (12810,0.9)(13245,0.9) (14000,nan) (14490,1.0)(17950,0.9) (19000,nan) (19480,0.9)(24700,0.8)};
\node[anchor=base, inner sep=0pt, font=\dlab] at (axis cs:21213,1.0) {2.5 days};
\end{axis}

\begin{axis}[scale only axis, width=293.35pt, height=23.65pt,
  xmode=log, xmin=3170, xmax=24700, ymin=-7.1, ymax=7.1,
  at={(0,-47.3pt)}, anchor=north west,
  axis line style={draw=axcol, line width=0.8pt},
  major tick length=4pt, tick align=outside, tick pos=left,
  unbounded coords=jump, xtick=\empty,
  ytick={-3,3}, yticklabels={\textsf{-3},\textsf{3}},
  yticklabel style={font=\fontsize{9.5}{10}\selectfont}]
\bands{-10}{10}
\addplot[spec, forget plot] coordinates {
(3170,8)(3220,7.2)(3280,6.2)(3340,5.8)(3400,5.3)(3470,4.8)(3540,4.3)(3620,3.9)(3700,3.6)(3790,3.0)(3880,2.8)(3980,2.5)(4080,2.4)(4190,2.6)(4300,2.3)(4420,2.5)(4550,2.2)(4680,2.4)(4820,2.3)(4960,2.5)(5100,2.2)(5250,2.4)(5400,2.0)(5480,1.5)
(5480,-1.8)(5400,-1.5)(5250,-1.3)(5100,-1.1)(4960,-1.3)(4820,-1.2)(4680,-1.4)(4550,-1.2)(4420,-1.3)(4300,-1.2)(4190,-1.4)(4080,-1.3)(3980,-1.5)(3880,-2.0)(3790,-2.4)(3700,-3.0)(3620,-3.6)(3540,-4.2)(3470,-4.8)(3400,-5.2)(3340,-6.0)(3280,-5.8)(3220,-6.7)(3170,-6.4)
(5600,nan)
(5700,2.0)(5850,1.7)(6000,1.9)(6170,1.6)(6340,1.8)(6520,1.5)(6700,1.8)(6900,1.6)(7100,1.9)(7300,1.5)(7520,1.8)(7740,1.6)(7960,1.9)(8200,1.7)(8440,2.0)(8700,1.6)(8960,2.2)(9230,1.8)(9500,2.4)(9800,3.5)(10100,2.0)(10400,2.6)(10700,2.2)(11000,2.4)(11350,1.8)(11700,1.6)(12050,1.5)(12330,1.3)
(12330,-1.1)(12050,-1.3)(11700,-1.5)(11350,-1.6)(11000,-2.2)(10700,-1.7)(10400,-2.0)(10100,-1.6)(9800,-2.5)(9500,-1.9)(9230,-1.4)(8960,-1.7)(8700,-1.3)(8440,-1.5)(8200,-1.2)(7960,-1.4)(7740,-1.2)(7520,-1.4)(7300,-1.1)(7100,-1.3)(6900,-1.2)(6700,-1.4)(6520,-1.1)(6340,-1.3)(6170,-1.2)(6000,-1.4)(5850,-1.2)(5700,-1.6)
(12500,nan)
(12810,1.3)(13000,1.1)(13245,1.4)(13245,-1.2)(13000,-1.0)(12810,-1.3)
(14000,nan)
(14490,1.4)(14800,1.2)(15100,1.6)(15450,1.1)(15800,1.4)(16150,1.2)(16500,1.3)(16900,1.0)(17300,1.3)(17650,1.1)(17950,1.4)
(17950,-1.3)(17650,-1.0)(17300,-1.4)(16900,-1.1)(16500,-1.3)(16150,-1.0)(15800,-1.2)(15450,-2.0)(15100,-1.2)(14800,-1.1)(14490,-1.5)
(19000,nan)
(19480,1.5)(19900,1.2)(20300,1.1)(20750,1.3)(21200,1.0)(21700,1.2)(22200,1.0)(22700,1.2)(23200,0.9)(23800,1.1)(24700,1.5)
(24700,-1.6)(23800,-1.0)(23200,-1.2)(22700,-0.9)(22200,-1.1)(21700,-1.0)(21200,-1.2)(20750,-0.9)(20300,-1.1)(19900,-1.3)(19480,-1.8)
};
\addplot[zline, forget plot] coordinates {(3170,0)(24700,0)};
\addplot[rdash, forget plot] coordinates {(3170,5.3)(3250,3.9)(3340,3.3)(3540,1.6)(3850,1.0)(4500,0.9)(5480,0.9) (5600,nan) (5700,0.9)(9000,0.8)(10500,0.9)(12330,0.6) (12500,nan) (12810,0.5)(13245,0.5) (14000,nan) (14490,0.5)(17950,0.5) (19000,nan) (19480,0.5)(24700,0.5)};
\node[anchor=base, inner sep=0pt, font=\dlab] at (axis cs:21213,0.7) {3.5 days};
\end{axis}

\begin{axis}[scale only axis, width=293.35pt, height=23.65pt,
  xmode=log, xmin=3170, xmax=24700, ymin=-7.1, ymax=7.1,
  at={(0,-70.95pt)}, anchor=north west,
  axis line style={draw=axcol, line width=0.8pt},
  major tick length=4pt, tick align=outside, tick pos=left,
  unbounded coords=jump,
  ytick={-3,3}, yticklabels={\textsf{-3},\textsf{3}},
  yticklabel style={font=\fontsize{9.5}{10}\selectfont},
  xtick={4000,5500,7500,10500,14500,20000},
  xticklabels={4000,5500,7500,10500,14500,20000},
  xticklabel style={font=\sffamily\fontsize{9.5}{10}\selectfont}]
\bands{-10}{10}
\addplot[spec, forget plot] coordinates {
(3170,4.6)(3220,4.2)(3280,4.5)(3340,3.8)(3400,3.6)(3470,3.3)(3540,2.9)(3620,2.7)(3700,2.5)(3790,2.4)(3880,2.3)(3980,2.5)(4080,2.2)(4190,2.4)(4300,2.2)(4420,2.3)(4550,2.1)(4680,2.3)(4820,2.1)(4960,2.2)(5100,2.0)(5250,2.2)(5400,1.8)(5480,1.2)
(5480,-1.4)(5400,-1.2)(5250,-1.0)(5100,-0.9)(4960,-1.0)(4820,-0.9)(4680,-1.1)(4550,-0.9)(4420,-1.0)(4300,-0.9)(4190,-1.1)(4080,-1.0)(3980,-1.2)(3880,-1.4)(3790,-1.6)(3700,-2.0)(3620,-2.3)(3540,-2.6)(3470,-3.0)(3400,-3.4)(3340,-3.6)(3280,-4.0)(3220,-4.4)(3170,-4.2)
(5600,nan)
(5700,1.6)(5850,1.4)(6000,1.6)(6170,1.3)(6340,1.5)(6520,1.3)(6700,1.5)(6900,1.3)(7100,1.6)(7300,1.3)(7520,1.5)(7740,1.4)(7960,1.6)(8200,1.4)(8440,1.6)(8700,1.3)(8960,1.7)(9230,1.5)(9500,1.9)(9800,2.2)(10100,1.6)(10400,2.0)(10700,1.7)(11000,1.9)(11350,1.5)(11700,1.3)(12050,1.2)(12330,1.1)
(12330,-1.0)(12050,-1.1)(11700,-1.2)(11350,-1.4)(11000,-1.7)(10700,-1.4)(10400,-1.6)(10100,-1.3)(9800,-2.0)(9500,-1.5)(9230,-1.2)(8960,-1.4)(8700,-1.1)(8440,-1.3)(8200,-1.0)(7960,-1.2)(7740,-1.0)(7520,-1.2)(7300,-0.9)(7100,-1.1)(6900,-1.0)(6700,-1.2)(6520,-0.9)(6340,-1.1)(6170,-1.0)(6000,-1.2)(5850,-1.0)(5700,-1.3)
(12500,nan)
(12810,1.1)(13000,0.9)(13245,1.2)(13245,-1.0)(13000,-0.8)(12810,-1.1)
(14000,nan)
(14490,1.2)(14800,1.0)(15100,1.3)(15450,0.9)(15800,1.2)(16150,1.0)(16500,1.1)(16900,0.9)(17300,1.1)(17650,0.9)(17950,1.2)
(17950,-1.1)(17650,-0.9)(17300,-1.2)(16900,-0.9)(16500,-1.1)(16150,-0.9)(15800,-1.0)(15450,-1.6)(15100,-1.0)(14800,-0.9)(14490,-1.3)
(19000,nan)
(19480,1.3)(19900,1.0)(20300,0.9)(20750,1.1)(21200,0.9)(21700,1.0)(22200,0.8)(22700,1.0)(23200,0.8)(23800,0.9)(24700,1.3)
(24700,-1.4)(23800,-0.9)(23200,-1.0)(22700,-0.8)(22200,-1.0)(21700,-0.9)(21200,-1.0)(20750,-0.8)(20300,-1.0)(19900,-1.1)(19480,-1.5)
};
\addplot[zline, forget plot] coordinates {(3170,0)(24700,0)};
\addplot[rdash, forget plot] coordinates {(3170,2.5)(3400,1.2)(3700,0.9)(5480,0.8) (5600,nan) (5700,0.8)(12330,0.6) (12500,nan) (12810,0.5)(13245,0.5) (14000,nan) (14490,0.4)(17950,0.4) (19000,nan) (19480,0.4)(24700,0.4)};
\node[anchor=base, inner sep=0pt, font=\dlab] at (axis cs:21213,0.5) {4.5 days};
\end{axis}

% axis titles (lengths matched to the reference)
\node[rotate=90, inner sep=0pt] at (-22.95pt,145.9pt)
  {\resizebox{140pt}{!}{\fontsize{9}{10}\selectfont F$_\lambda$ [$10^{-17}$ erg s$^{-1}$ cm$^{-2}$ \AA$^{-1}$] $+$ offset}};
\node[rotate=90, inner sep=0pt] at (-25.45pt,-33.35pt)
  {\resizebox{153.5pt}{!}{\fontsize{9.5}{11}\selectfont \textsf{Residual} F$_\lambda$ [$10^{-17}$ erg s$^{-1}$ cm$^{-2}$ \AA$^{-1}$]}};
\node[font=\fontsize{9.5}{11}\selectfont] at (145.15pt,-119.6pt)
  {\textsf{Observed wavelength} [\AA]};

\pgfresetboundingbox
\path (-38.35pt,-124.6pt) rectangle (291.2pt,290.9pt);
\end{tikzpicture}
\end{document}
